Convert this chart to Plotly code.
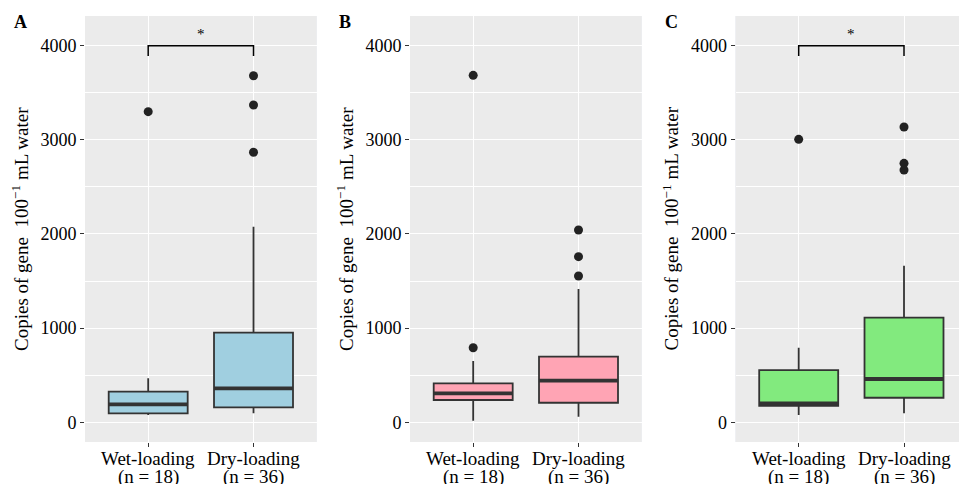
import plotly.graph_objects as go

# ---- data -------------------------------------------------------------
groups = ["Wet-loading", "Dry-loading"]
group_n = [18, 36]
panels = ["A", "B", "C"]
fill_colors = ["#A0CFE0", "#FFA4B4", "#82EA7E"]

# box statistics per panel: [wet, dry]
q1 = {"A": [96, 159], "B": [237, 208], "C": [176, 261]}
median = {"A": [191, 361], "B": [308, 442], "C": [202, 460]}
q3 = {"A": [325, 952], "B": [414, 697], "C": [555, 1111]}
lower_whisker = {"A": [78, 96], "B": [17, 59], "C": [78, 96]}
upper_whisker = {"A": [467, 2077], "B": [651, 1416], "C": [792, 1663]}
outliers = {
    "A": [[3299], [3681, 3370, 2868]],
    "B": [[3685, 792], [2042, 1759, 1554]],
    "C": [[3005], [3136, 2750, 2680]],
}
# significance bracket (None = no bracket)
bracket = {"A": (4000, 3890, "*"), "B": None, "C": (4000, 3890, "*")}

y_ticks = [0, 1000, 2000, 3000, 4000]
y_range = [-209, 4315]

# ---- layout geometry --------------------------------------------------
W, H = 959, 484
x_domains = [(85, 316.7), (410, 641.7), (735.5, 959)]
plot_top, plot_bottom = 16, 442
box_width = 0.75
serif = "Liberation Serif"
line_col = "#333333"

fig = go.Figure()
layout = dict(
    width=W, height=H,
    margin=dict(l=0, r=0, t=0, b=0, autoexpand=False),
    paper_bgcolor="white",
    showlegend=False,
    font=dict(family=serif, color="black"),
)
annotations = []
shapes = []

for i, p in enumerate(panels):
    sfx = "" if i == 0 else str(i + 1)
    xa, ya = "x" + sfx, "y" + sfx
    xpos = list(range(1, len(groups) + 1))

    for j in range(len(groups)):
        fig.add_trace(go.Box(
            x=[xpos[j]], q1=[q1[p][j]], median=[median[p][j]], q3=[q3[p][j]],
            lowerfence=[lower_whisker[p][j]], upperfence=[upper_whisker[p][j]],
            width=box_width, whiskerwidth=0,
            fillcolor=fill_colors[i], line=dict(color=line_col, width=1.8),
            boxpoints=False, hoverinfo="skip",
            xaxis=xa, yaxis=ya,
        ))
        # thicker median bar
        fig.add_trace(go.Scatter(
            x=[xpos[j] - box_width / 2, xpos[j] + box_width / 2],
            y=[median[p][j], median[p][j]],
            mode="lines", line=dict(color=line_col, width=3.8),
            hoverinfo="skip", xaxis=xa, yaxis=ya,
        ))
        fig.add_trace(go.Scatter(
            x=[xpos[j]] * len(outliers[p][j]), y=outliers[p][j],
            mode="markers", marker=dict(color="#222222", size=9),
            hoverinfo="skip", xaxis=xa, yaxis=ya,
        ))
        # two-line category label under the axis
        annotations.append(dict(
            x=xpos[j], y=(H - 458) / H, xref=xa, yref="paper",
            text=groups[j], showarrow=False, yanchor="middle",
            font=dict(family=serif, size=19, color="black"),
        ))
        annotations.append(dict(
            x=xpos[j], y=(H - 477) / H, xref=xa, yref="paper",
            text=f"(n = {group_n[j]})", showarrow=False, yanchor="middle",
            font=dict(family=serif, size=19, color="black"),
        ))

    if bracket[p] is not None:
        top, tip, label = bracket[p]
        fig.add_trace(go.Scatter(
            x=[xpos[0], xpos[0], xpos[1], xpos[1]], y=[tip, top, top, tip],
            mode="lines", line=dict(color="black", width=1.5),
            hoverinfo="skip", xaxis=xa, yaxis=ya,
        ))
        annotations.append(dict(
            x=(xpos[0] + xpos[1]) / 2, y=top, xref=xa, yref=ya,
            text=label, showarrow=False, yanchor="bottom", yshift=2,
            font=dict(family=serif, size=15, color="black"),
        ))

    x0, x1 = x_domains[i]
    xmax = 0.4 + (x1 - x0) / ((x_domains[0][1] - x_domains[0][0]) / 2.2)
    layout["xaxis" + sfx] = dict(
        domain=[x0 / W, min(x1 / W, 1.0)], anchor=ya,
        range=[0.4, xmax], tickvals=xpos, ticktext=["" for _ in xpos],
        showgrid=True, gridcolor="white", gridwidth=1.1,
        ticks="outside", ticklen=4, tickwidth=1.1, tickcolor=line_col,
        zeroline=False, showline=False, fixedrange=True, automargin=False,
    )
    layout["yaxis" + sfx] = dict(
        domain=[(H - plot_bottom) / H, (H - plot_top) / H], anchor=xa,
        range=y_range, tickvals=y_ticks,
        showgrid=True, gridcolor="white", gridwidth=1.1,
        minor=dict(dtick=500, tick0=0, showgrid=True, gridcolor="white",
                   gridwidth=0.5, ticks=""),
        ticks="outside", ticklen=4, tickwidth=1.1, tickcolor=line_col,
        tickfont=dict(family=serif, size=18, color="black"),
        zeroline=False, showline=False, fixedrange=True, automargin=False,
    )
    shapes.append(dict(
        type="rect", xref="paper", yref="paper", layer="below",
        x0=x0 / W, x1=min(x1 / W, 1.0),
        y0=(H - plot_bottom) / H, y1=(H - plot_top) / H,
        fillcolor="#EBEBEB", line=dict(width=0),
    ))
    # panel letter
    annotations.append(dict(
        x=(x0 - 73) / W, y=(H - 22) / H, xref="paper", yref="paper",
        text=f"<b>{p}</b>", showarrow=False, xanchor="left", yanchor="middle",
        font=dict(family=serif, size=18, color="black"),
    ))
    # y-axis title
    annotations.append(dict(
        x=(x0 - 65) / W, y=(H - (plot_top + plot_bottom) / 2) / H,
        xref="paper", yref="paper", textangle=-90,
        text="Copies of gene  100<sup>\u22121</sup> mL water",
        showarrow=False, xanchor="center", yanchor="middle",
        font=dict(family=serif, size=19, color="black"),
    ))

layout["annotations"] = annotations
layout["shapes"] = shapes
fig.update_layout(**layout)
fig.write_html("out.html")
